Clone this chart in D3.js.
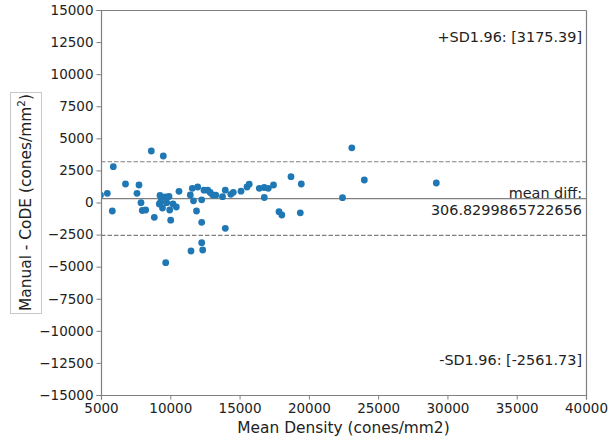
<!DOCTYPE html>
<html>
<head>
<meta charset="utf-8">
<script src="https://cdn.jsdelivr.net/npm/d3@7"></script>
<style>
  body { margin: 0; background: #fff; }
  svg text { font-family: "DejaVu Sans", sans-serif; }
  .tick line, .domain { stroke: #808080; }
</style>
</head>
<body>
<svg id="main-svg" width="608" height="441"></svg>
<script>
// mean of the two methods (cones/mm2)
var meanDensity = [4964, 5455, 5815, 5888, 6768, 7742, 7598, 7887, 7980, 8226,
  8630, 9496, 8846, 9258, 9907, 9640, 9207, 9308, 9438, 9741,
  9958, 10030, 10196, 10434, 10629, 9669, 11444, 11589, 11675, 11978,
  11892, 12267, 12267, 12433, 12700, 12880, 13061, 13284, 13768, 13970,
  13970, 14367, 14547, 15103, 15536, 15695, 16424, 16778, 16785, 17073,
  17449, 17845, 18048, 18711, 19454, 19382, 22428, 23099, 24001, 29197,
  11495, 12267, 12339];
// manual minus CoDE
var difference = [584, 717, -662, 2790, 1442, 1364, 717, -16, -623, -584,
  4013, 3623, -1153, 545, 468, 429, -117, 39, -429, -16,
  -584, -1379, -117, -351, 873, -4691, 584, 1106, 132, 1208,
  -662, 210, -1543, 958, 958, 779, 584, 569, 452, 958,
  -2010, 639, 795, 880, 1208, 1426, 1106, 1169, 390, 1106,
  1364, -717, -974, 2010, 1442, -803, 374, 4262, 1753, 1519,
  -3779, -3132, -3701];

var meanDiff = 306.8299865722656;
var upperLimit = 3175.39;
var lowerLimit = -2561.73;

var xTicks = [5000, 10000, 15000, 20000, 25000, 30000, 35000, 40000];
var yTicks = [15000, 12500, 10000, 7500, 5000, 2500, 0, -2500, -5000, -7500, -10000, -12500, -15000];

var svg = d3.select("#main-svg");
var plotL = 101, plotR = 586, plotT = 10, plotB = 395;

var x = d3.scaleLinear().domain([5000, 40000]).range([plotL, plotR]);
var y = d3.scaleLinear().domain([-15000, 15000]).range([plotB, plotT]);

svg.append("clipPath").attr("id", "plot-clip")
   .append("rect")
   .attr("x", plotL).attr("y", plotT)
   .attr("width", plotR - plotL).attr("height", plotB - plotT);

// reference lines
svg.append("line")
   .attr("x1", plotL).attr("x2", plotR)
   .attr("y1", y(meanDiff)).attr("y2", y(meanDiff))
   .style("stroke", "#808080").style("stroke-width", 1.2);

[upperLimit, lowerLimit].forEach(function(v){
  svg.append("line")
     .attr("x1", plotL).attr("x2", plotR)
     .attr("y1", y(v)).attr("y2", y(v))
     .style("stroke", "#808080").style("stroke-width", 1.2)
     .style("stroke-dasharray", "4.5,2");
});

svg.append("g")
   .attr("clip-path", "url(#plot-clip)")
   .selectAll("circle")
   .data(meanDensity)
   .enter().append("circle")
   .attr("cx", function(d) { return x(d); })
   .attr("cy", function(d, i) { return y(difference[i]); })
   .attr("r", 3.4)
   .style("fill", "#1f77b4");

// axes
svg.append("g")
   .attr("transform", "translate(0," + plotB + ")")
   .call(d3.axisBottom(x).tickValues(xTicks).tickFormat(d3.format("d")).tickSize(4.5).tickPadding(3.5));
svg.append("g")
   .attr("transform", "translate(" + plotL + ",0)")
   .call(d3.axisLeft(y).tickValues(yTicks).tickFormat(d3.format("d")).tickSize(4.5).tickPadding(3));
svg.append("g")
   .attr("transform", "translate(0," + plotT + ")")
   .call(d3.axisTop(x).tickValues([]).tickSize(0));
svg.append("g")
   .attr("transform", "translate(" + plotR + ",0)")
   .call(d3.axisRight(y).tickValues([]).tickSize(0));
svg.selectAll(".domain").style("stroke-width", 1.2);
svg.selectAll(".tick text")
   .style("font-family", "'DejaVu Sans', sans-serif")
   .style("font-size", "13.5px").style("fill", "#222");

// annotations
function note(txt, ty) {
  svg.append("text")
     .attr("x", 582).attr("y", ty)
     .attr("text-anchor", "end")
     .style("font-size", "14.4px").style("fill", "#222")
     .text(txt);
}
note("+SD1.96: [" + upperLimit.toFixed(2) + "]", 42);
note("mean diff:", 198);
note(String(meanDiff), 215);
note("-SD1.96: [" + lowerLimit.toFixed(2) + "]", 365);

// axis labels
svg.append("text")
   .attr("x", (plotL + plotR) / 2).attr("y", 433)
   .attr("text-anchor", "middle")
   .style("font-size", "15.4px").style("fill", "#222")
   .text("Mean Density (cones/mm2)");

svg.append("rect")
   .attr("x", 10.5).attr("y", 92.5).attr("width", 31).attr("height", 221)
   .style("fill", "#fff").style("stroke", "#c8c8c8").style("stroke-width", 1);

var yl = svg.append("text")
   .attr("transform", "translate(31,202.5) rotate(-90)")
   .attr("text-anchor", "middle")
   .style("font-size", "15.4px").style("fill", "#222");
yl.append("tspan").text("Manual - CoDE (cones/mm");
yl.append("tspan").attr("baseline-shift", "super").style("font-size", "10.5px").text("2");
yl.append("tspan").text(")");
</script>
</body>
</html>
